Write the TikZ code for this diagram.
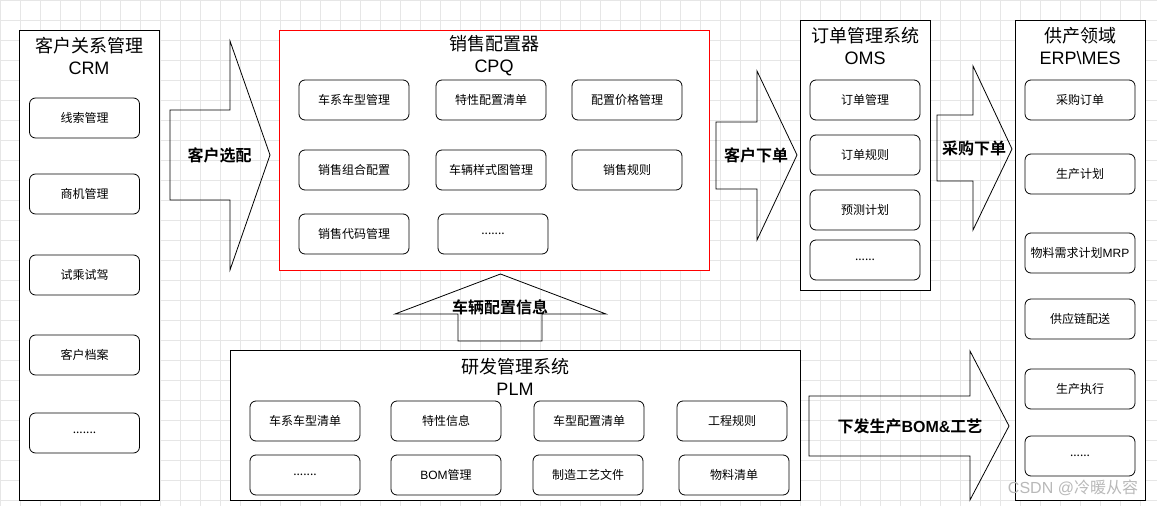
\documentclass[tikz,border=0pt]{standalone}
\usepackage{fontspec}
\setmainfont{Noto Sans CJK SC}[BoldFont={Noto Sans CJK SC Bold}]
\newfontfamily\latfont{Liberation Sans}
\newcommand{\lat}[1]{{\latfont #1}}
\usepackage{tikz}
\usetikzlibrary{positioning}
\definecolor{gridgray}{HTML}{E6E6E6}
\tikzset{
  gridline/.style={gridgray, line width=0.6pt},
  panel/.style={draw, fill=white, line width=0.9pt},
  itembox/.style={draw, fill=white, rounded corners=6pt, line width=0.8pt,
    minimum width=110pt, minimum height=40pt, inner sep=0pt,
    font=\fontsize{12}{14}\selectfont},
  paneltitle/.style={align=center, inner sep=0pt,
    font=\fontsize{18}{22}\selectfont},
  blockarrow/.style={draw, line width=0.8pt, line join=miter},
  arrowlabel/.style={inner sep=0pt, font=\bfseries\fontsize{16}{18}\selectfont}
}

\begin{document}
\begin{tikzpicture}[x=1pt, y=-1pt]
  \useasboundingbox[fill=white] (0,0) rectangle (1157,506);
  % background grid
  \foreach \gx in {0,20,...,1140} \draw[gridline] (\gx,0) -- (\gx,506);
  \foreach \gy in {0,20,...,500} \draw[gridline] (0,\gy) -- (1157,\gy);

  % CRM
  \draw[panel] (19,30) rectangle (159,500);
  \node[paneltitle] (crmtitle) at (89,56) {客户关系管理\\\lat{CRM}};
  \node[itembox] (crm1) at (84.5,118) {线索管理};
  \node[itembox] (crm2) at (84.5,194) {商机管理};
  \node[itembox] (crm3) at (84.5,275) {试乘试驾};
  \node[itembox] (crm4) at (84.5,355) {客户档案};
  \node[itembox] (crm5) at (84.5,433) {.......};

  % CPQ
  \draw[panel, draw=red] (279,30) rectangle (709,270);
  \node[paneltitle] (cpqtitle) at (494,56) {销售配置器\\\lat{CPQ}};
  \node[itembox] (cpq1) at (354,100) {车系车型管理};
  \node[itembox] (cpq2) at (491,100) {特性配置清单};
  \node[itembox] (cpq3) at (627,100) {配置价格管理};
  \node[itembox] (cpq4) at (354,170) {销售组合配置};
  \node[itembox] (cpq5) at (491,170) {车辆样式图管理};
  \node[itembox] (cpq6) at (627,170) {销售规则};
  \node[itembox] (cpq7) at (354,234) {销售代码管理};
  \node[itembox] (cpq8) at (493,234) {.......};

  % OMS
  \draw[panel] (800,20) rectangle (930,290);
  \node[paneltitle] (omstitle) at (865,46) {订单管理系统\\\lat{OMS}};
  \node[itembox] (oms1) at (865,100) {订单管理};
  \node[itembox] (oms2) at (865,155) {订单规则};
  \node[itembox] (oms3) at (865,210) {预测计划};
  \node[itembox] (oms4) at (865,260) {......};

  % ERP / MES
  \draw[panel] (1015,20) rectangle (1145,500);
  \node[paneltitle] (erptitle) at (1080,46) {供产领域\\\lat{ERP\textbackslash MES}};
  \node[itembox] (erp1) at (1080,100) {采购订单};
  \node[itembox] (erp2) at (1080,174) {生产计划};
  \node[itembox] (erp3) at (1080,253) {物料需求计划\lat{MRP}};
  \node[itembox] (erp4) at (1080,319) {供应链配送};
  \node[itembox] (erp5) at (1080,389) {生产执行};
  \node[itembox] (erp6) at (1080,456) {......};

  % PLM
  \draw[panel] (230,350) rectangle (800,500);
  \node[paneltitle] (plmtitle) at (515,376.5) {研发管理系统\\\lat{PLM}};
  \node[itembox] (plm1) at (305,421) {车系车型清单};
  \node[itembox] (plm2) at (446,421) {特性信息};
  \node[itembox] (plm3) at (589,421) {车型配置清单};
  \node[itembox] (plm4) at (732,421) {工程规则};
  \node[itembox] (plm5) at (305,475) {.......};
  \node[itembox] (plm6) at (446,475) {\lat{BOM}管理};
  \node[itembox] (plm7) at (588,475) {制造工艺文件};
  \node[itembox] (plm8) at (734,475) {物料清单};

  % block arrows
  \draw[blockarrow] (170,110) -- (230,110) -- (230,41) -- (270,155)
    -- (230,270) -- (230,200) -- (170,200) -- cycle;
  \node[arrowlabel] (pick) at (219.5,155) {客户选配};

  \draw[blockarrow] (716,122) -- (757,122) -- (757,71) -- (797,155)
    -- (757,240) -- (757,189) -- (716,189) -- cycle;
  \node[arrowlabel] (order) at (756,155) {客户下单};

  \draw[blockarrow] (937,115) -- (973,115) -- (973,66) -- (1012,149)
    -- (973,230) -- (973,181) -- (937,181) -- cycle;
  \node[arrowlabel] (purchase) at (974,148) {采购下单};

  \draw[blockarrow] (809,396) -- (970,396) -- (970,351) -- (1009,426)
    -- (970,500) -- (970,456) -- (809,456) -- cycle;
  \node[arrowlabel] (issue) at (910,426) {下发生产\lat{BOM\&}工艺};

  \draw[blockarrow] (458,341) -- (458,314) -- (395,314) -- (500.5,274)
    -- (606,314) -- (542,314) -- (542,341) -- cycle;
  \node[arrowlabel] (vehinfo) at (500,307) {车辆配置信息};

  % watermark
  \node[inner sep=0pt, text=gray!55, font=\fontsize{16}{18}\selectfont]
    (mark) at (1073,488) {\lat{CSDN @}冷暖从容};
\end{tikzpicture}
\end{document}
